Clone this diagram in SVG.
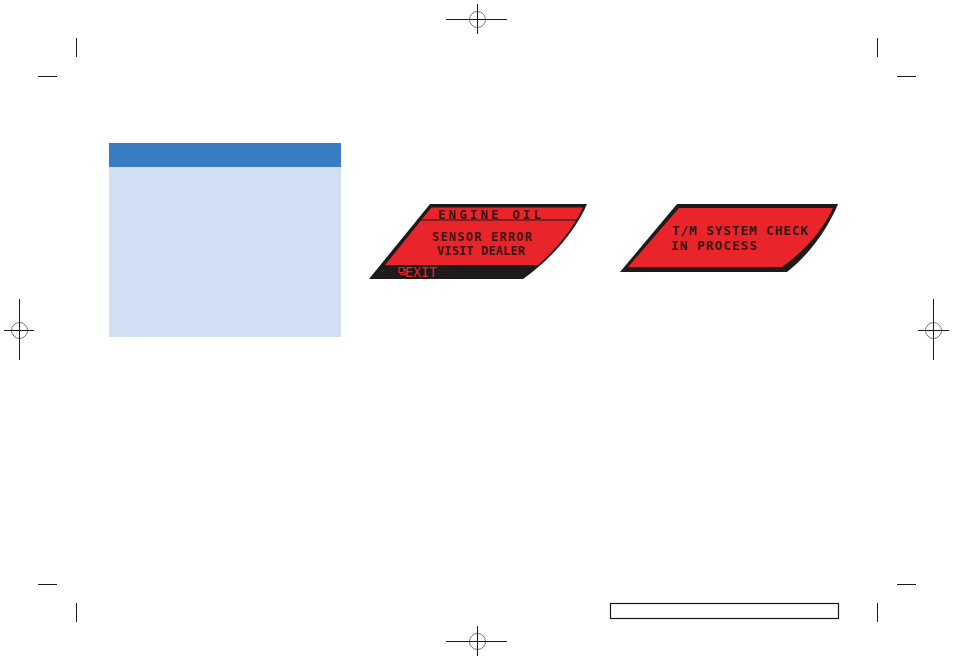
<svg xmlns="http://www.w3.org/2000/svg" width="954" height="659" viewBox="0 0 954 659">
<style>
.m{stroke:#1a1a1a;stroke-width:1;fill:none}
.c{stroke:#777;stroke-width:1;fill:none}
.t{font-family:"DejaVu Sans Mono","Liberation Mono",monospace;font-weight:700;fill:#3a1512}
.r{fill:#e9252b}
.k{fill:#1d1a1a}
</style>
<rect width="954" height="659" fill="#fff"/>
<g id="crop-marks">
<path class="m" d="M76.500 38V57M38 76.500H57M877.500 38V57M897 76.500H916M38 584.500H57M76.500 603V622M897 584.500H916M877.500 603V622"/>
</g>
<g id="reg-top"><circle class="c" cx="477.500" cy="19.500" r="8"/><path class="m" d="M446 19.500H507M477.500 4V34"/></g>
<g id="reg-bottom"><circle class="c" cx="477.500" cy="641.500" r="8"/><path class="m" d="M446 641.500H507M477.500 626V656"/></g>
<g id="reg-left"><circle class="c" cx="19.500" cy="330.500" r="8"/><path class="m" d="M4 330.500H34M19.500 299V360"/></g>
<g id="reg-right"><circle class="c" cx="933.500" cy="330.500" r="8"/><path class="m" d="M918 330.500H949M933.500 299V360"/></g>
<g id="note-panel">
<rect x="109" y="143" width="232" height="194" fill="#d2def1"/>
<rect x="109" y="143" width="232" height="24" fill="#397cc1"/>
</g>
<g id="display-1">
<path class="k" d="M430 204H587C577 228 553 258 523 279H369Z"/>
<path class="r" d="M431.500 207.500H583C573 228 558 248 538 265H385Z"/>
<path d="M417 220H577" stroke="#1d1a1a" stroke-width="1"/>
<text class="t" x="438" y="219" font-size="12.500" textLength="103" lengthAdjust="spacing">ENGINE OIL</text>
<text class="t" x="432" y="241" font-size="12" textLength="100" lengthAdjust="spacing">SENSOR ERROR</text>
<text class="t" x="437" y="255" font-size="12" textLength="88" lengthAdjust="spacing">VISIT DEALER</text>
<path d="M399 267.500h5v5h-5zM401 272.500v2h5v-5h-2" fill="none" stroke="#e9252b" stroke-width="1.200"/>
<text x="405" y="277" font-family="'DejaVu Sans Mono','Liberation Mono',monospace" font-size="14" fill="#e9252b" textLength="32" lengthAdjust="spacingAndGlyphs">EXIT</text>
</g>
<g id="display-2">
<path class="k" d="M677 204H838C828 228 810 254 787 272H620Z"/>
<path class="r" d="M679 208H833C824 228 806 250 782 267H628Z"/>
<text class="t" x="672" y="235" font-size="12.800" textLength="136" lengthAdjust="spacing">T/M SYSTEM CHECK</text>
<text class="t" x="671" y="250" font-size="12.800" textLength="86" lengthAdjust="spacing">IN PROCESS</text>
</g>
<g id="footer-box">
<rect x="610.500" y="603.500" width="228" height="15" fill="#fff" stroke="#1a1a1a" stroke-width="1.200"/>
</g>
</svg>
